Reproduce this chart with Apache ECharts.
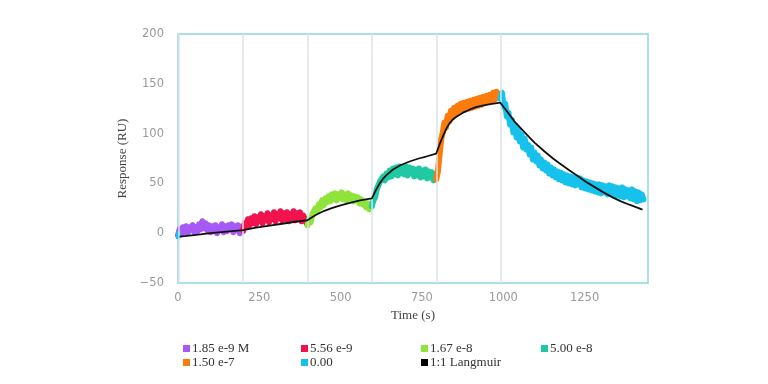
<!DOCTYPE html>
<html>
<head>
<meta charset="utf-8">
<script src="https://cdn.jsdelivr.net/npm/echarts@6/dist/echarts.min.js"></script>
<style>html,body{margin:0;padding:0;background:#fff}#c{width:768px;height:384px}</style>
</head>
<body>
<div id="c"></div>
<script>
// ---- data ----
const STEP = 5; // sampling step (s)
const segNames = ['1.85 e-9 M', '5.56 e-9', '1.67 e-8', '5.00 e-8', '1.50 e-7', '0.00'];
const segStarts = [0, 200, 398, 596, 794, 991];
const injections = [2, 200, 398, 596, 794, 991];
const purple = [-2,4,-1,6,1,7,0,5,3,8, 1,6,2,9,4,12,5,10,3,8, 1,7,2,8,0,6,3,9,1,7, 2,8,4,9,1,7,3,8,0,6, 2];
const red = [3,10,6,14,8,15,10,17,9,16, 12,19,10,17,13,20,11,18,14,21, 12,19,15,22,13,20,14,21,12,19, 15,22,13,20,16,21,12,18,14,10];
const green = [8,14,11,19,18,25,22,29,26,33, 28,35,31,37,32,39,34,40,33,39, 35,41,34,39,33,40,35,38,32,37, 33,36,30,34,29,32,26,30,24,27];
const teal = [27,33,36,44,45,52,50,57,53,60, 56,63,57,65,59,66,58,67,60,66, 59,67,58,66,60,65,57,64,58,65, 56,63,57,64,55,62,56,61,53,57];
const orange = [54,62,78,94,101,111,106,118,112,123, 116,126,119,128,121,130,123,131,124,132, 125,133,126,134,127,135,128,136,129,137, 131,138,132,139,133,141,134,142,136,140];
const cyan = [135,141,127,130,117,121,109,114,101,108,
  96,104,92,99,86,95,84,89,79,86,
  74,81,72,78,68,74,65,71,63,69,
  60,66,58,64,56,62,54,61,53,59,
  51,58,50,57,49,56,48,55,49,55,
  46,53,45,52,44,51,43,50,42,49,
  41,49,40,48,41,47,39,48,40,47,
  38,46,38,45,37,46,36,44,37,43,
  35,44,34,42,32,41,33,39,34];
const cyanStartBlip = [[0,-6],[1,2],[2,-5],[3,0]];
const fit = [[5,-3.5],[50,-2],[100,0],[150,1.5],[200,3],[240,5.5],[282,7.5],[320,9.5],[360,11.5],[398,13],
  [412,16],[425,18.5],[450,22.5],[475,25.5],[500,28],[528,30.5],[560,33],[596,35],
  [608,43],[620,50],[630,54.5],[640,58],[661,64],[685,68.5],[712,72],[740,75],[763,77],[794,80],
  [804,89],[814,97],[825,105],[835,110.5],[846,114.5],[856,117],[876,121],[896,124],[916,126.5],[936,128],[960,129.5],[991,131],
  [1010,123],[1035,112],[1065,101.5],[1096,91],[1127,82],[1153,75],[1178,69],[1204,63],[1229,57.5],
  [1255,51.5],[1280,46.5],[1308,41],[1336,36],[1362,32],[1388,28.6],[1410,26],[1428,23.6]];
const colors = ['#a659f5', '#f0134d', '#8ee43a', '#1ec9a4', '#fb7b0c', '#16c2ec'];
const yTicks = [-50, 0, 50, 100, 150, 200];
const xTicks = [0, 250, 500, 750, 1000, 1250];
// ---- chart ----
const segValues = [purple, red, green, teal, orange, cyan];
const series = [];
series.push({
  type: 'line', name: '_inj', data: [], z: 1, silent: true,
  markLine: {
    symbol: 'none', silent: true, animation: false,
    label: {show: false},
    lineStyle: {color: '#dbe2e9', width: 1.5, type: 'solid'},
    data: injections.map(t => ({xAxis: t}))
  }
});
segValues.forEach((vals, k) => {
  series.push({
    type: 'line', name: segNames[k], showSymbol: false, z: 3,
    data: vals.map((v, i) => [segStarts[k] + i * STEP, v]),
    lineStyle: {width: 6, color: colors[k], join: 'round', cap: 'round'},
    itemStyle: {color: colors[k]}
  });
});
series.push({
  type: 'line', name: '0.00', showSymbol: false, z: 3, data: cyanStartBlip,
  lineStyle: {width: 4, color: colors[5]}, itemStyle: {color: colors[5]}
});
series.push({
  type: 'line', name: '1:1 Langmuir', showSymbol: false, z: 5, smooth: false,
  data: fit, lineStyle: {width: 1.8, color: '#111', join: 'round'}, itemStyle: {color: '#000'}
});
const legendPos = [[183, 342], [301, 342], [421, 342], [541, 342], [183, 356], [301, 356], [421, 356]];
const legendNames = segNames.concat(['1:1 Langmuir']);
const legendColors = colors.concat(['#000']);
const legends = legendNames.map((n, i) => ({
  data: [{name: n, icon: 'rect', itemStyle: {color: legendColors[i]}}],
  left: legendPos[i][0], top: legendPos[i][1], padding: 0,
  itemWidth: 7, itemHeight: 7, itemGap: 2,
  textStyle: {fontFamily: 'Liberation Serif', fontSize: 13, color: '#333', padding: [0, 0, 0, -3]}
}));
const chart = echarts.init(document.getElementById('c'));
chart.setOption({
  animation: false,
  legend: legends,
  grid: {left: 178, right: 120, top: 34, bottom: 101, show: true, borderColor: '#8fd6e3', borderWidth: 1.5, backgroundColor: 'transparent'},
  xAxis: {
    type: 'value', min: 0, max: 1445, interval: 250,
    name: 'Time (s)', nameLocation: 'middle', nameGap: 25,
    nameTextStyle: {fontFamily: 'Liberation Serif', fontSize: 13, color: '#444'},
    axisLine: {show: false}, axisTick: {show: false}, splitLine: {show: false},
    axisLabel: {margin: 9, color: '#9a9a9a', fontFamily: 'DejaVu Sans', fontSize: 11.5,
      formatter: v => xTicks.includes(v) ? String(v) : ''}
  },
  yAxis: {
    type: 'value', min: -50, max: 200, interval: 50,
    name: 'Response (RU)', nameLocation: 'middle', nameGap: 41,
    nameTextStyle: {fontFamily: 'Liberation Serif', fontSize: 13, color: '#444'},
    axisLine: {show: false}, axisTick: {show: false}, splitLine: {show: false},
    axisLabel: {margin: 14, color: '#9a9a9a', fontFamily: 'DejaVu Sans', fontSize: 11.5,
      formatter: v => yTicks.includes(v) ? String(v).replace('-', '\u2212') : ''}
  },
  series: series
});
</script>
</body>
</html>
